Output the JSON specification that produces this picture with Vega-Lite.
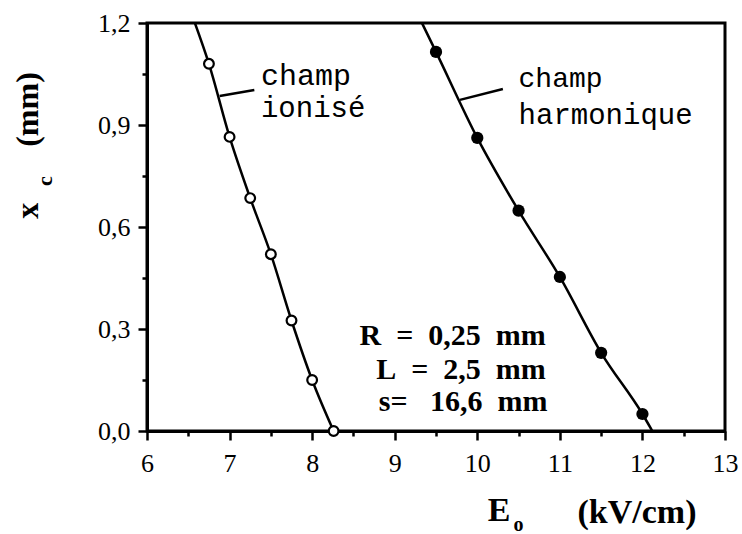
{
  "$schema": "https://vega.github.io/schema/vega-lite/v6.json",
  "width": 578,
  "height": 408,
  "autosize": "none",
  "padding": {"left": 147, "top": 23, "right": 17, "bottom": 103},
  "background": "white",
  "config": {
    "view": {"stroke": "black", "strokeWidth": 3},
    "axis": {
      "grid": false,
      "domainColor": "black",
      "domainWidth": 3,
      "tickColor": "black",
      "tickWidth": 2.5,
      "labelColor": "black",
      "labelFont": "Liberation Serif",
      "labelFontSize": 26,
      "labelFlush": false,
      "labelOverlap": false,
      "labelBound": false,
      "titleColor": "black",
      "titleFont": "Liberation Serif",
      "titleFontWeight": "bold",
      "titleFontSize": 34
    }
  },
  "datasets": {
    "ionise": [
      {"E": 6.75, "xc": 1.08},
      {"E": 7.0, "xc": 0.865},
      {"E": 7.25, "xc": 0.685},
      {"E": 7.5, "xc": 0.52},
      {"E": 7.75, "xc": 0.325},
      {"E": 8.0, "xc": 0.15},
      {"E": 8.26, "xc": 0.0}
    ],
    "harmonique": [
      {"E": 9.5, "xc": 1.115},
      {"E": 10.0, "xc": 0.862},
      {"E": 10.5, "xc": 0.648},
      {"E": 11.0, "xc": 0.453},
      {"E": 11.5, "xc": 0.23},
      {"E": 12.0, "xc": 0.05}
    ],
    "curves": [
      {"serie": "ionise", "E": 6.58, "xc": 1.2},
      {"serie": "ionise", "E": 6.75, "xc": 1.08},
      {"serie": "ionise", "E": 7.0, "xc": 0.865},
      {"serie": "ionise", "E": 7.25, "xc": 0.685},
      {"serie": "ionise", "E": 7.5, "xc": 0.52},
      {"serie": "ionise", "E": 7.75, "xc": 0.325},
      {"serie": "ionise", "E": 8.0, "xc": 0.15},
      {"serie": "ionise", "E": 8.26, "xc": 0.0},
      {"serie": "harmonique", "E": 9.33, "xc": 1.2},
      {"serie": "harmonique", "E": 9.5, "xc": 1.115},
      {"serie": "harmonique", "E": 10.0, "xc": 0.862},
      {"serie": "harmonique", "E": 10.5, "xc": 0.648},
      {"serie": "harmonique", "E": 11.0, "xc": 0.453},
      {"serie": "harmonique", "E": 11.5, "xc": 0.23},
      {"serie": "harmonique", "E": 12.0, "xc": 0.05},
      {"serie": "harmonique", "E": 12.12, "xc": 0.0}
    ],
    "leaders": [
      {"E": 6.88, "xc": 0.985, "E2": 7.3, "xc2": 1.003},
      {"E": 9.79, "xc": 0.974, "E2": 10.31, "xc2": 1.006}
    ],
    "labels": [
      {"E": 7.38, "xc": 1.045, "txt": "champ", "sz": 30},
      {"E": 7.38, "xc": 0.95, "txt": "ionisé", "sz": 29},
      {"E": 10.5, "xc": 1.035, "txt": "champ", "sz": 28},
      {"E": 10.5, "xc": 0.93, "txt": "harmonique", "sz": 29}
    ],
    "params": [
      {"E": 10.83, "xc": 0.28, "txt": "R\u00a0\u00a0=\u00a0\u00a00,25\u00a0\u00a0mm"},
      {"E": 10.83, "xc": 0.18, "txt": "L\u00a0\u00a0=\u00a0\u00a02,5\u00a0\u00a0mm"},
      {"E": 10.85, "xc": 0.085, "txt": "s=\u00a0\u00a0\u00a016,6\u00a0\u00a0mm"}
    ],
    "titleparts": [
      {"E": 10.265, "xc": -0.235, "txt": "E", "sz": 34, "ang": 0},
      {"E": 10.5, "xc": -0.276, "txt": "o", "sz": 20, "ang": 0},
      {"E": 4.765, "xc": 0.735, "txt": "c", "sz": 22, "ang": 270}
    ]
  },
  "layer": [
    {
      "data": {"name": "curves"},
      "mark": {"type": "line", "color": "black", "strokeWidth": 2.5, "interpolate": "monotone", "clip": true},
      "encoding": {
        "x": {
          "field": "E", "type": "quantitative",
          "scale": {"domain": [6, 13], "nice": false, "zero": false},
          "axis": {
            "values": [6, 6.5, 7, 7.5, 8, 8.5, 9, 9.5, 10, 10.5, 11, 11.5, 12, 12.5, 13],
            "labelExpr": "datum.value % 1 == 0 ? format(datum.value, 'd') : ''",
            "tickSize": {"condition": {"test": "datum.value % 1 == 0", "value": 9}, "value": 5},
            "labelPadding": 10,
            "title": "(kV/cm)",
            "titleAlign": "right",
            "titleAnchor": "start",
            "titleX": 549,
            "titleY": 91,
            "titleBaseline": "alphabetic"
          }
        },
        "y": {
          "field": "xc", "type": "quantitative",
          "scale": {"domain": [0, 1.2], "nice": false, "zero": false},
          "axis": {
            "values": [0, 0.15, 0.3, 0.45, 0.6, 0.75, 0.9, 1.05, 1.2],
            "labelExpr": "abs(datum.value * 10 / 3 - round(datum.value * 10 / 3)) < 0.01 ? replace(format(datum.value, '.1f'), '.', ',') : ''",
            "tickSize": {"condition": {"test": "abs(datum.value * 10 / 3 - round(datum.value * 10 / 3)) < 0.01", "value": 9}, "value": 5},
            "labelPadding": 8,
            "title": "x\u00a0\u00a0\u00a0\u00a0\u00a0\u00a0\u00a0(mm)",
            "titleFontSize": 32,
            "titleAngle": 270,
            "titleAlign": "center",
            "titleAnchor": "start",
            "titleBaseline": "middle",
            "titleX": -120,
            "titleY": 122
          }
        },
        "detail": {"field": "serie"}
      }
    },
    {
      "data": {"name": "ionise"},
      "mark": {"type": "point", "shape": "circle", "filled": true, "fill": "white", "stroke": "black", "strokeWidth": 2.2, "size": 95, "opacity": 1},
      "encoding": {
        "x": {"field": "E", "type": "quantitative"},
        "y": {"field": "xc", "type": "quantitative"}
      }
    },
    {
      "data": {"name": "harmonique"},
      "mark": {"type": "point", "shape": "circle", "filled": true, "color": "black", "size": 150, "opacity": 1},
      "encoding": {
        "x": {"field": "E", "type": "quantitative"},
        "y": {"field": "xc", "type": "quantitative"}
      }
    },
    {
      "data": {"name": "leaders"},
      "mark": {"type": "rule", "color": "black", "strokeWidth": 2.5},
      "encoding": {
        "x": {"field": "E", "type": "quantitative"},
        "y": {"field": "xc", "type": "quantitative"},
        "x2": {"field": "E2"},
        "y2": {"field": "xc2"}
      }
    },
    {
      "data": {"name": "labels"},
      "mark": {"type": "text", "font": "Liberation Mono", "align": "left", "baseline": "middle", "color": "black"},
      "encoding": {
        "x": {"field": "E", "type": "quantitative"},
        "y": {"field": "xc", "type": "quantitative"},
        "text": {"field": "txt"},
        "size": {"field": "sz", "type": "quantitative", "scale": null}
      }
    },
    {
      "data": {"name": "params"},
      "mark": {"type": "text", "font": "Liberation Serif", "fontWeight": "bold", "fontSize": 30, "align": "right", "baseline": "middle", "color": "black"},
      "encoding": {
        "x": {"field": "E", "type": "quantitative"},
        "y": {"field": "xc", "type": "quantitative"},
        "text": {"field": "txt"}
      }
    },
    {
      "data": {"name": "titleparts"},
      "mark": {"type": "text", "font": "Liberation Serif", "fontWeight": "bold", "align": "center", "baseline": "middle", "color": "black", "clip": false},
      "encoding": {
        "x": {"field": "E", "type": "quantitative"},
        "y": {"field": "xc", "type": "quantitative"},
        "text": {"field": "txt"},
        "size": {"field": "sz", "type": "quantitative", "scale": null},
        "angle": {"field": "ang", "type": "quantitative", "scale": null}
      }
    }
  ]
}
